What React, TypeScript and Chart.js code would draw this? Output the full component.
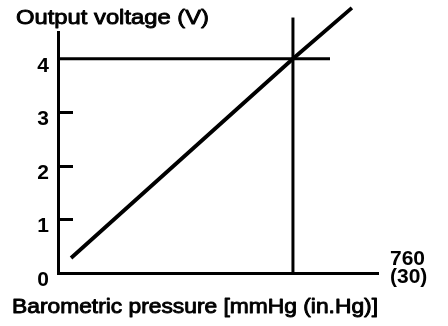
import { useEffect, useRef } from "react";
import { Chart, registerables } from "chart.js";

Chart.register(...registerables);

// ---- text ----
const titleText = "Output voltage (V)";
const xAxisTitle = "Barometric pressure [mmHg (in.Hg)]";
const xEndLabels = ["760", "(30)"];

// ---- axes ----
const xMax = 760;
const yAxisTop = 4.5;
const yTicks = [0, 1, 2, 3, 4];
const yInnerTicks = [1, 2, 3];

// ---- output characteristic (pressure vs. voltage) ----
const pressure = [31, 558, 698];
const voltage = [0.28, 4.0, 4.95];

// ---- reference lines ----
const refPressure = 558;
const refVoltage = 4;
const refVLineTop = 4.77;
const refHLineEnd = 646;

const FONT = "'Liberation Sans', Arial, Helvetica, sans-serif";

function drawStretched(
  ctx: CanvasRenderingContext2D,
  text: string,
  x: number,
  baseline: number,
  font: string,
  width: number,
  thicken: number
) {
  ctx.save();
  ctx.font = font;
  const w = ctx.measureText(text).width;
  ctx.translate(x, baseline);
  ctx.scale(width / w, 1);
  ctx.fillStyle = "#000";
  ctx.textBaseline = "alphabetic";
  ctx.textAlign = "left";
  ctx.fillText(text, 0, 0);
  if (thicken > 0) {
    ctx.strokeStyle = "#000";
    ctx.lineWidth = thicken;
    ctx.lineJoin = "round";
    ctx.strokeText(text, 0, 0);
  }
  ctx.restore();
}

const decorPlugin = {
  id: "decor",
  afterDatasetsDraw(chart: any) {
    const ctx: CanvasRenderingContext2D = chart.ctx;
    const xs = chart.scales.x;
    const ys = chart.scales.y;
    ctx.save();
    ctx.strokeStyle = "#000";
    ctx.lineWidth = 3;
    ctx.lineCap = "butt";
    for (const v of yInnerTicks) {
      const py = Math.round(ys.getPixelForValue(v)) + 0.5;
      ctx.beginPath();
      ctx.moveTo(xs.left, py);
      ctx.lineTo(xs.left + 15, py);
      ctx.stroke();
    }
    ctx.restore();

    drawStretched(ctx, titleText, 16, 24, `21px ${FONT}`, 193, 0.9);
    drawStretched(ctx, xAxisTitle, 12, 313, `20px ${FONT}`, 366, 0.9);
    ctx.save();
    ctx.fillStyle = "#000";
    ctx.font = `bold 21px ${FONT}`;
    ctx.textAlign = "left";
    ctx.textBaseline = "alphabetic";
    ctx.fillText(xEndLabels[0], xs.right + 12, 265);
    ctx.fillText(xEndLabels[1], xs.right + 12, 283);
    ctx.restore();
  },
};

export default function App() {
  const ref = useRef<HTMLCanvasElement | null>(null);

  useEffect(() => {
    if (!ref.current) return;
    const lineBase = {
      borderColor: "#000",
      backgroundColor: "#000",
      pointRadius: 0,
      fill: false,
      tension: 0,
      clip: false as any,
    };
    const chart = new Chart(ref.current, {
      type: "line",
      data: {
        datasets: [
          {
            ...lineBase,
            label: "Output voltage",
            data: pressure.map((x, i) => ({ x, y: voltage[i] })),
            borderWidth: 3.8,
          },
          {
            ...lineBase,
            label: "ref-v",
            data: [
              { x: refPressure, y: 0 },
              { x: refPressure, y: refVLineTop },
            ],
            borderWidth: 3,
          },
          {
            ...lineBase,
            label: "ref-h",
            data: [
              { x: 0, y: refVoltage },
              { x: refHLineEnd, y: refVoltage },
            ],
            borderWidth: 3,
          },
        ],
      },
      options: {
        responsive: false,
        animation: false,
        events: [],
        layout: { padding: { left: 0, top: 32, right: 70, bottom: 0 } },
        plugins: {
          legend: { display: false },
          tooltip: { enabled: false },
          title: { display: false },
        },
        scales: {
          x: {
            type: "linear",
            min: 0,
            max: xMax,
            grid: { display: false, drawTicks: false },
            border: { display: true, width: 3, color: "#000" },
            ticks: { display: false },
            afterFit: (s: any) => {
              s.height = 53;
            },
          },
          y: {
            type: "linear",
            min: 0,
            max: yAxisTop,
            afterBuildTicks: (s: any) => {
              s.ticks = yTicks.map((v) => ({ value: v }));
            },
            grid: { display: false, drawTicks: false },
            border: { display: true, width: 3, color: "#000" },
            ticks: {
              color: "#000",
              font: { family: FONT, size: 21, weight: "bold" },
              padding: 9,
              labelOffset: 7,
              callback: (v: any) => String(v),
            },
            afterFit: (s: any) => {
              s.width = 58;
            },
          },
        },
      },
      plugins: [decorPlugin],
    });
    return () => chart.destroy();
  }, []);

  return (
    <div style={{ position: "absolute", left: 0, top: 0, width: 448, height: 326, background: "#fff" }}>
      <canvas ref={ref} width={448} height={326} style={{ display: "block", width: 448, height: 326 }} />
    </div>
  );
}
